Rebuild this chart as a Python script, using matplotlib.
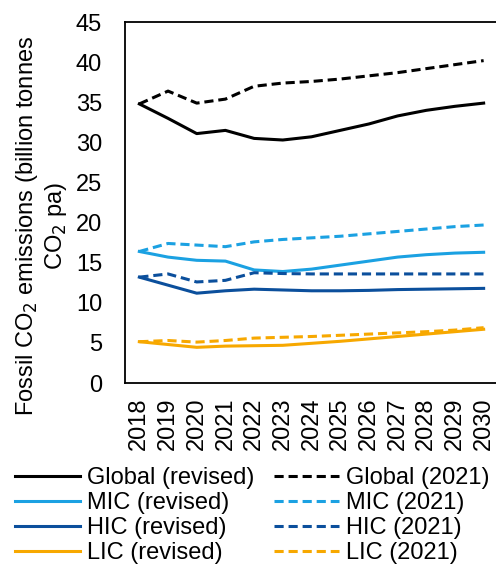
import matplotlib.pyplot as plt

plt.rcParams['font.family'] = ['Liberation Sans', 'DejaVu Sans']

years = list(range(2018, 2031))
year_labels = [str(y) for y in years]

global_rev = [34.8, 33.0, 31.1, 31.5, 30.5, 30.3, 30.7, 31.5, 32.3, 33.3, 34.0, 34.5, 34.9]
global_2021 = [34.8, 36.4, 34.9, 35.4, 37.0, 37.4, 37.6, 37.9, 38.3, 38.7, 39.2, 39.7, 40.2]
mic_rev = [16.4, 15.7, 15.3, 15.2, 14.1, 13.9, 14.2, 14.7, 15.2, 15.7, 16.0, 16.2, 16.3]
mic_2021 = [16.4, 17.4, 17.2, 17.0, 17.6, 17.9, 18.1, 18.3, 18.6, 18.9, 19.2, 19.5, 19.7]
hic_rev = [13.2, 12.2, 11.2, 11.5, 11.7, 11.6, 11.5, 11.5, 11.55, 11.65, 11.7, 11.75, 11.8]
hic_2021 = [13.2, 13.6, 12.6, 12.8, 13.75, 13.65, 13.6, 13.6, 13.6, 13.6, 13.6, 13.6, 13.6]
lic_rev = [5.15, 4.8, 4.45, 4.6, 4.65, 4.7, 4.95, 5.2, 5.5, 5.8, 6.1, 6.4, 6.7]
lic_2021 = [5.15, 5.3, 5.1, 5.3, 5.6, 5.7, 5.8, 5.95, 6.1, 6.25, 6.4, 6.6, 6.9]

c_global = '#000000'
c_mic = '#1BA1E2'
c_hic = '#0B4F9C'
c_lic = '#F7A800'

fs = 17

fig = plt.figure(figsize=(4.96, 5.67), dpi=100)
ax = fig.add_axes([0.252, 0.3245, 0.752, 0.6365])

x = list(range(len(years)))
lw = 2.2
dash = (3, 1.6)

# revised first then 2021, so ncol=2 puts them in two columns
series = [
    (global_rev, c_global, '-', 'Global (revised)'),
    (mic_rev, c_mic, '-', 'MIC (revised)'),
    (hic_rev, c_hic, '-', 'HIC (revised)'),
    (lic_rev, c_lic, '-', 'LIC (revised)'),
    (global_2021, c_global, '--', 'Global (2021)'),
    (mic_2021, c_mic, '--', 'MIC (2021)'),
    (hic_2021, c_hic, '--', 'HIC (2021)'),
    (lic_2021, c_lic, '--', 'LIC (2021)'),
]
for vals, col, ls, lab in series:
    if ls == '--':
        ax.plot(x, vals, color=col, lw=lw, dashes=dash, label=lab)
    else:
        ax.plot(x, vals, color=col, lw=lw, label=lab)

ax.set_xlim(-0.5, len(years) - 0.5)
ax.set_ylim(0, 45)
ax.set_yticks(range(0, 46, 5))
ax.set_xticks(x)
ax.set_xticklabels(year_labels, rotation=90)
ax.tick_params(length=0, labelsize=fs)
ax.tick_params(axis='y', pad=16.5)
ax.tick_params(axis='x', pad=10.5)
for s in ax.spines.values():
    s.set_linewidth(1.3)

ax.set_ylabel('Fossil CO$_2$ emissions (billion tonnes\nCO$_2$ pa)', fontsize=fs,
              linespacing=1.15)
ax.yaxis.set_label_coords(-0.151, 0.435)

fig.legend(handles=ax.get_lines(), loc='upper left', bbox_to_anchor=(0.031, 0.176), ncol=2,
           frameon=False, fontsize=fs, handlelength=2.75, handletextpad=0.3,
           columnspacing=0.8, labelspacing=0.13, borderaxespad=0, borderpad=0)

fig.savefig('out.png', dpi=100)
